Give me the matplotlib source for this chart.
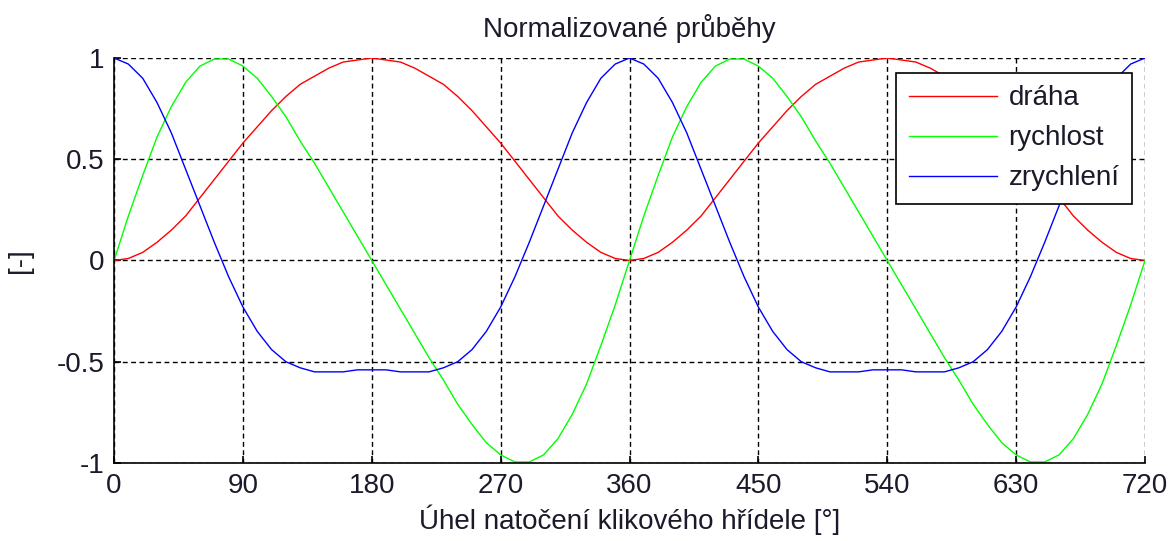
import matplotlib
matplotlib.use("Agg")
import matplotlib.pyplot as plt
import numpy as np

# uhel natoceni [deg], krok 10 deg
uhel = np.arange(0, 721, 10)

draha = [0.00, 0.01, 0.04, 0.09, 0.15, 0.22, 0.31, 0.40, 0.49, 0.58,
         0.66, 0.74, 0.81, 0.87, 0.91, 0.95, 0.98, 0.99, 1.00,
         0.99, 0.98, 0.95, 0.91, 0.87, 0.81, 0.74, 0.66, 0.58,
         0.49, 0.40, 0.31, 0.22, 0.15, 0.09, 0.04, 0.01, 0.00,
         0.01, 0.04, 0.09, 0.15, 0.22, 0.31, 0.40, 0.49, 0.58,
         0.66, 0.74, 0.81, 0.87, 0.91, 0.95, 0.98, 0.99, 1.00,
         0.99, 0.98, 0.95, 0.91, 0.87, 0.81, 0.74, 0.66, 0.58,
         0.49, 0.40, 0.31, 0.22, 0.15, 0.09, 0.04, 0.01, 0.00]

rychlost = [0.00, 0.22, 0.42, 0.61, 0.76, 0.88, 0.96, 0.995, 0.995, 0.96,
            0.90, 0.81, 0.71, 0.59, 0.48, 0.36, 0.24, 0.12, 0.00,
            -0.12, -0.24, -0.36, -0.48, -0.59, -0.71, -0.81, -0.90, -0.96,
            -0.995, -0.995, -0.96, -0.88, -0.76, -0.61, -0.42, -0.22, 0.00,
            0.22, 0.42, 0.61, 0.76, 0.88, 0.96, 0.995, 0.995, 0.96,
            0.90, 0.81, 0.71, 0.59, 0.48, 0.36, 0.24, 0.12, 0.00,
            -0.12, -0.24, -0.36, -0.48, -0.59, -0.71, -0.81, -0.90, -0.96,
            -0.995, -0.995, -0.96, -0.88, -0.76, -0.61, -0.42, -0.22, 0.00]

zrychleni = [1.00, 0.97, 0.90, 0.78, 0.63, 0.45, 0.27, 0.09, -0.08, -0.23,
             -0.35, -0.44, -0.50, -0.53, -0.55, -0.55, -0.55, -0.54, -0.54,
             -0.54, -0.55, -0.55, -0.55, -0.53, -0.50, -0.44, -0.35, -0.23,
             -0.08, 0.09, 0.27, 0.45, 0.63, 0.78, 0.90, 0.97, 1.00,
             0.97, 0.90, 0.78, 0.63, 0.45, 0.27, 0.09, -0.08, -0.23,
             -0.35, -0.44, -0.50, -0.53, -0.55, -0.55, -0.55, -0.54, -0.54,
             -0.54, -0.55, -0.55, -0.55, -0.53, -0.50, -0.44, -0.35, -0.23,
             -0.08, 0.09, 0.27, 0.45, 0.63, 0.78, 0.90, 0.97, 1.00]

nazvy = ["dráha", "rychlost", "zrychlení"]
barvy = ["#ff0000", "#00ff00", "#0000ff"]

xticks = np.arange(0, 721, 90)
yticks = [-1, -0.5, 0, 0.5, 1]
ytick_labels = ["-1", "-0.5", "0", "0.5", "1"]

plt.rcParams['font.family'] = ['Liberation Sans', 'DejaVu Sans']
plt.rcParams['lines.scale_dashes'] = False
fs = 20
txt = '#1a1a2a'

fig = plt.figure(figsize=(11.76, 5.41), dpi=100)
ax = fig.add_axes([0.097, 0.1442, 0.8766, 0.7486])

for y, nazev, barva in zip([draha, rychlost, zrychleni], nazvy, barvy):
    ax.plot(uhel, y, color=barva, linewidth=1.0, label=nazev)

ax.set_xlim(0, 720)
ax.set_ylim(-1, 1)
ax.set_xticks(xticks)
ax.set_yticks(yticks)
ax.set_yticklabels(ytick_labels)

ax.grid(True, color='black', linestyle=(0, (3.5, 2.5)), linewidth=1.0)
ax.spines['top'].set_visible(False)
ax.spines['right'].set_visible(False)
ax.spines['left'].set_linewidth(1.2)
ax.spines['bottom'].set_linewidth(1.2)
ax.tick_params(direction='in', length=5, width=1.2, labelsize=fs, colors='black',
               labelcolor=txt)
ax.tick_params(axis='x', pad=7)
ax.tick_params(axis='y', pad=7)

ax.set_title("Normalizované průběhy", fontsize=fs, pad=15, color=txt)
ax.set_xlabel("Úhel natočení klikového hřídele [°]", fontsize=fs, labelpad=4, color=txt)
ax.set_ylabel("[-]", fontsize=fs, labelpad=17, color=txt)

leg = ax.legend(loc='upper right', bbox_to_anchor=(1132 / 1176, 1 - 73 / 541),
                bbox_transform=fig.transFigure, borderaxespad=0, fontsize=fs,
                fancybox=False, framealpha=1, edgecolor='black',
                handlelength=3.2, handletextpad=0.4, labelspacing=0.5,
                borderpad=0.45)
leg.get_frame().set_linewidth(1.2)
for t in leg.get_texts():
    t.set_color(txt)

fig.savefig("out.png", dpi=100)
